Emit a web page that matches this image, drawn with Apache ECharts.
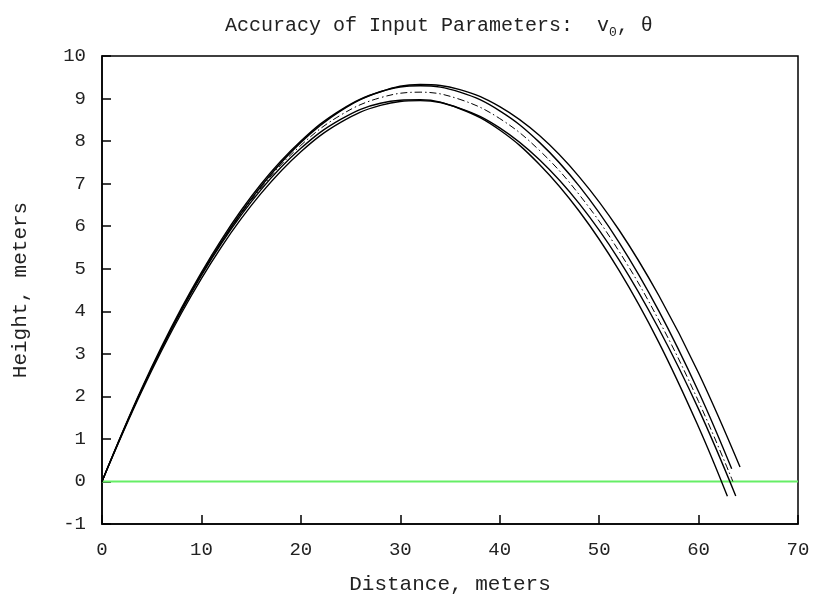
<!DOCTYPE html>
<html>
<head>
<meta charset="utf-8">
<title>Accuracy of Input Parameters</title>
<script src="https://cdn.jsdelivr.net/npm/echarts@6/dist/echarts.min.js"></script>
<style>
  html, body { margin: 0; padding: 0; background: #fff; }
  #chart { width: 821px; height: 601px; }
</style>
</head>
<body>
<div id="chart"></div>
<script>
  var xGrid = [0, 4, 8, 12, 16, 20, 24, 28, 32, 36, 40, 44, 48, 52, 56, 60]

  // heights (m), plus the last point of each curve
  var trajHighFar = [0, 2.16, 4.04, 5.63, 6.94, 7.97, 8.71, 9.16, 9.33, 9.21, 8.81, 8.13, 7.16, 5.91, 4.37, 2.55]
  var trajHighFarEnd = [64.17, 0.34]
  var trajHighNear = [0, 2.19, 4.08, 5.68, 6.99, 8.00, 8.73, 9.16, 9.30, 9.15, 8.71, 7.97, 6.94, 5.62, 4.01, 2.11]
  var trajHighNearEnd = [63.33, 0.30]
  var trajNominal = [0, 2.16, 4.03, 5.61, 6.90, 7.90, 8.61, 9.02, 9.15, 8.98, 8.53, 7.78, 6.74, 5.41, 3.79, 1.88]
  var trajNominalEnd = [63.45, 0]
  var trajLowFar = [0, 2.12, 3.96, 5.51, 6.77, 7.75, 8.44, 8.84, 8.95, 8.77, 8.31, 7.56, 6.53, 5.21, 3.59, 1.70]
  var trajLowFarEnd = [63.74, -0.34]
  var trajLowNear = [0, 2.16, 4.02, 5.59, 6.86, 7.83, 8.51, 8.89, 8.97, 8.76, 8.26, 7.45, 6.35, 4.96, 3.27, 1.28]
  var trajLowNearEnd = [62.9, -0.35]

  var groundLine = [[0, 0], [70, 0]]

  var fontMono = '"Liberation Mono", "Courier New", monospace'

  function toPoints (ys, end) {
    var pts = []
    for (var i = 0; i < xGrid.length; i++) pts.push([xGrid[i], ys[i]])
    pts.push(end)
    return pts
  }

  function solidSeries (name, ys, end) {
    return {
      name: name,
      type: 'line',
      data: toPoints(ys, end),
      smooth: 0.4,
      showSymbol: false,
      silent: true,
      lineStyle: { color: '#000', width: 1.4 }
    }
  }

  var chart = echarts.init(document.getElementById('chart'))

  var axisCommon = {
    axisLine: { show: true, onZero: false, lineStyle: { color: '#000', width: 1.5 } },
    axisTick: { show: true, inside: true, length: 9, lineStyle: { color: '#000', width: 1.5 } },
    splitLine: { show: false },
    nameTextStyle: { fontFamily: fontMono, fontSize: 21, color: '#222' }
  }

  chart.setOption({
    animation: false,
    backgroundColor: '#fff',
    title: {
      text: '{t|Accuracy of Input Parameters:  v}{s|0}{t|, θ}',
      left: 220,
      top: 8,
      textStyle: {
        fontWeight: 'normal',
        rich: {
          t: { fontFamily: fontMono, fontSize: 20, fontWeight: 'normal', color: '#222', lineHeight: 26, verticalAlign: 'middle' },
          s: { fontFamily: fontMono, fontSize: 13, fontWeight: 'normal', color: '#222', lineHeight: 26, verticalAlign: 'bottom', padding: [9, 0, 0, 0] }
        }
      }
    },
    grid: {
      left: 102,
      right: 23,
      top: 56,
      bottom: 77,
      show: true,
      borderColor: '#000',
      borderWidth: 1.5,
      backgroundColor: 'transparent'
    },
    xAxis: Object.assign({
      type: 'value',
      min: 0,
      max: 70,
      interval: 10,
      name: 'Distance, meters',
      nameLocation: 'middle',
      nameGap: 50,
      axisLabel: { fontFamily: fontMono, fontSize: 19, color: '#222', margin: 16 }
    }, axisCommon),
    yAxis: Object.assign({
      type: 'value',
      min: -1,
      max: 10,
      interval: 1,
      name: 'Height, meters',
      nameLocation: 'middle',
      nameGap: 71,
      axisLabel: { fontFamily: fontMono, fontSize: 19, color: '#222', margin: 16 }
    }, axisCommon),
    series: [
      {
        name: 'ground',
        type: 'line',
        data: groundLine,
        showSymbol: false,
        silent: true,
        lineStyle: { color: '#66ee66', width: 2 }
      },
      solidSeries('high far', trajHighFar, trajHighFarEnd),
      solidSeries('high near', trajHighNear, trajHighNearEnd),
      solidSeries('low far', trajLowFar, trajLowFarEnd),
      solidSeries('low near', trajLowNear, trajLowNearEnd),
      {
        name: 'nominal',
        type: 'line',
        data: toPoints(trajNominal, trajNominalEnd),
        smooth: 0.4,
        showSymbol: false,
        silent: true,
        lineStyle: { color: '#000', width: 1, type: [7, 3, 1.5, 3] }
      }
    ]
  })
</script>
</body>
</html>
